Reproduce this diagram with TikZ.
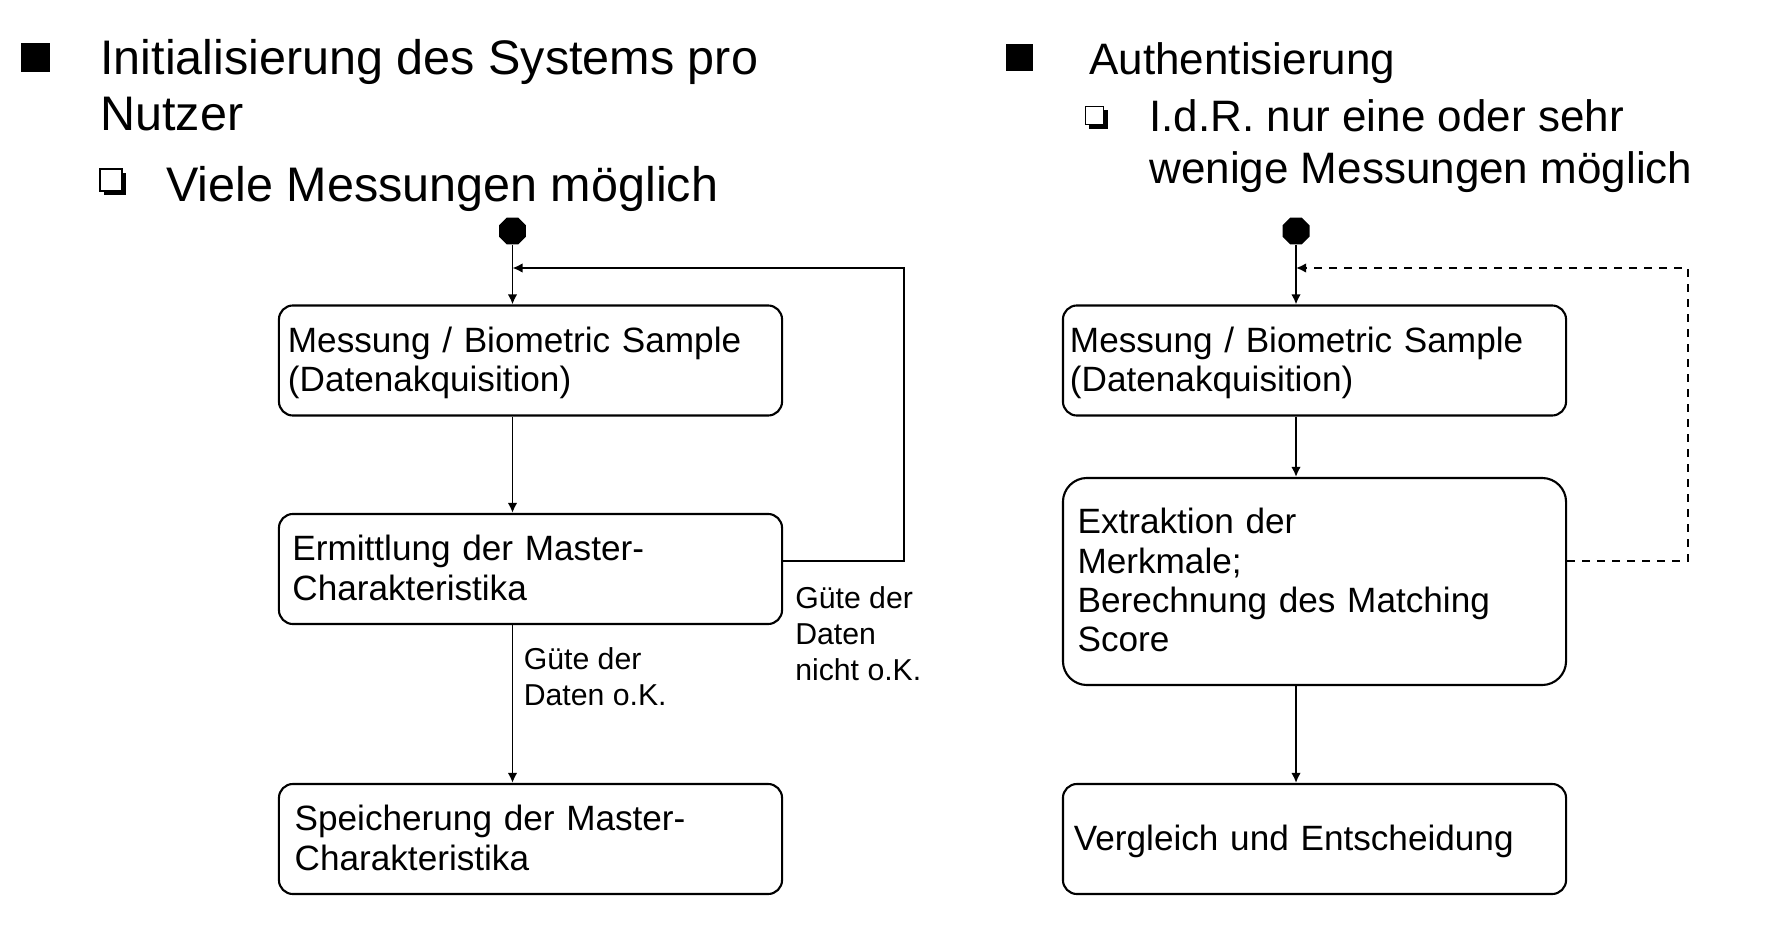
\documentclass[tikz,border=0pt]{standalone}
\usepackage{fontspec}
\setmainfont{Liberation Sans}
\usetikzlibrary{positioning,arrows.meta,shapes.geometric,shadows}

\newcommand{\titelfont}{\fontsize{34.5pt}{40.1pt}\selectfont}
\newcommand{\titelfontR}{\fontsize{31.3pt}{37pt}\selectfont}
\newcommand{\boxfont}{\fontsize{25pt}{28pt}\selectfont}
\newcommand{\labelfont}{\fontsize{21.5pt}{25.6pt}\selectfont}

\tikzset{
  zustand/.style={draw, rounded corners=0.35cm, line width=1.5pt, text width=12.125cm,
    inner xsep=0.225cm, inner ysep=0pt, minimum height=2.75cm, align=left, font=\boxfont,
    execute at begin node={\rule{0pt}{24.6pt}}, execute at end node=\strut},
  einzug/.style={execute at begin node={\leftskip=#1\relax}},
  startpunkt/.style={regular polygon, regular polygon sides=8, fill=black, inner sep=0pt, minimum size=0.73cm},
  pfeil/.style={-{Latex[length=0.25cm,width=0.24cm]}, line width=1.4pt},
  rueck/.style={pfeil, dash pattern=on 0.2cm off 0.175cm},
  titel/.style={anchor=north west, inner sep=0pt, align=left, execute at begin node=\strut},
  hinweis/.style={anchor=north west, inner sep=0pt, align=left, font=\labelfont, execute at begin node=\strut},
  quadrat/.style={fill=black, inner sep=0pt, minimum size=#1},
  kaestchen/.style={draw, fill=white, line width=0.8pt, inner sep=0pt, minimum size=#1,
    drop shadow={shadow xshift=0.1cm, shadow yshift=-0.1cm, fill=black, opacity=1}}
}

\begin{document}
\begin{tikzpicture}[x=0.025cm, y=-0.025cm]
    \useasboundingbox (0,0) rectangle (1766,938);
    % Headings with bullets
    \node[quadrat=0.72cm] (punktL) at (35.5,57.5) {};
    \node[titel, font=\titelfont] (titelL) at (100,39) {Initialisierung des Systems pro\\Nutzer};
    \node[kaestchen=0.55cm] (kastenL) at (111,180) {};
    \node[anchor=base west, inner sep=0pt, font=\titelfont] (unterL) at (166,202) {Viele Messungen möglich};
    \node[quadrat=0.67cm] (punktR) at (1019.5,57.5) {};
    \node[anchor=base west, inner sep=0pt, font=\titelfontR] (titelR) at (1089,75) {Authentisierung};
    \node[kaestchen=0.47cm] (kastenR) at (1094.5,115.5) {};
    \node[titel, font=\titelfontR] (unterR) at (1149,99) {I.d.R. nur eine oder sehr\\wenige Messungen möglich};
    % Start states
    \node[startpunkt] (startL) at (512.5,231) {};
    \node[startpunkt] (startR) at (1296,231) {};
    % Left diagram
    \node[zustand] (L1) at (530.5,360.5) {Messung / Biometric Sample\\(Datenakquisition)};
    \node[zustand, einzug=3.2pt] (L2) at (530.5,569) {Ermittlung der Master-\\Charakteristika};
    \node[zustand, einzug=4.8pt] (L3) at (530.5,839) {Speicherung der Master-\\Charakteristika};
    % Right diagram
    \node[zustand, einzug=-1.4pt] (R1) at (1314.5,360.5) {Messung / Biometric Sample\\(Datenakquisition)};
    \node[zustand, einzug=4pt, minimum height=5.175cm, rounded corners=0.6cm] (R2) at (1314.5,581.5) {Extraktion der\\Merkmale;\\Berechnung des Matching\\Score};
    \node[zustand, einzug=1.4pt] (R3) at (1314.5,839) {Vergleich und Entscheidung};
    % Corners of the loops
    \coordinate (eckL) at (904,561);
    \coordinate (obenL) at (904,268);
    \coordinate (eckR) at (1688,561);
    \coordinate (obenR) at (1688,268);
    % Draw transitions
    \draw[pfeil] (startL) -- (startL |- L1.north);
    \draw[pfeil] (startR) -- (startR |- R1.north);
    \foreach \s/\a/\b in {startL/L1/L2, startL/L2/L3, startR/R1/R2, startR/R2/R3}{
        \draw[pfeil] (\s |- \a.south) -- (\s |- \b.north);
    }
    \draw[pfeil] (L2.east |- eckL) -- (eckL) -- (obenL) -- (startL |- obenL);
    \draw[rueck] (R2.east |- eckR) -- (eckR) -- (obenR) -- (startR |- obenR);
    % Guards
    \node[hinweis] (gueteOK) at (523.5,647.5) {Güte der\\Daten o.K.};
    \node[hinweis] (gueteNOK) at (795,586.5) {Güte der\\Daten\\nicht o.K.};
\end{tikzpicture}
\end{document}
